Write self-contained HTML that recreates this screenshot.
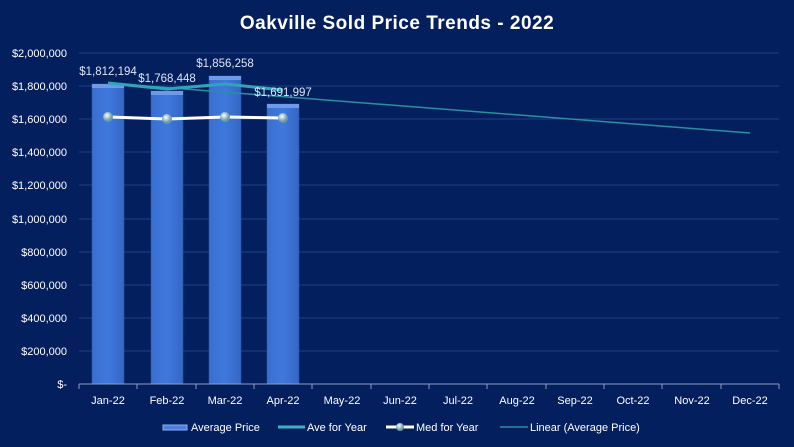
<!DOCTYPE html><html><head><style>body{margin:0;background:#041f5e;}svg{display:block}</style></head><body>
<svg width="794" height="447" xmlns="http://www.w3.org/2000/svg" font-family="Liberation Sans, sans-serif">
<defs><linearGradient id="b" x1="0" x2="1"><stop offset="0" stop-color="#3a6fd0"/><stop offset="0.5" stop-color="#3f78dc"/><stop offset="1" stop-color="#3566c4"/></linearGradient>
<radialGradient id="m" cx="0.4" cy="0.35"><stop offset="0" stop-color="#fff"/><stop offset="1" stop-color="#6a9aa8"/></radialGradient></defs>
<rect width="794" height="447" fill="#041f5e"/>
<text x="397" y="29" text-anchor="middle" fill="#fff" font-size="19" font-weight="bold" letter-spacing="0.5">Oakville  Sold Price Trends  - 2022</text>
<g stroke="#1f3f86" stroke-width="1">
<line x1="79" x2="779" y1="53" y2="53"/><line x1="79" x2="779" y1="86" y2="86"/><line x1="79" x2="779" y1="119" y2="119"/><line x1="79" x2="779" y1="152" y2="152"/><line x1="79" x2="779" y1="185" y2="185"/><line x1="79" x2="779" y1="219" y2="219"/><line x1="79" x2="779" y1="252" y2="252"/><line x1="79" x2="779" y1="285" y2="285"/><line x1="79" x2="779" y1="318" y2="318"/><line x1="79" x2="779" y1="351" y2="351"/>
</g>
<g fill="#fff" font-size="11" text-anchor="end">
<text x="67" y="57">$2,000,000</text><text x="67" y="90">$1,800,000</text><text x="67" y="123">$1,600,000</text><text x="67" y="156">$1,400,000</text><text x="67" y="189">$1,200,000</text><text x="67" y="223">$1,000,000</text><text x="67" y="256">$800,000</text><text x="67" y="289">$600,000</text><text x="67" y="322">$400,000</text><text x="67" y="355">$200,000</text><text x="67" y="388">$-</text>
</g>
<g fill="url(#b)" stroke="#2a55a8" stroke-width="0.6">
<rect x="92" y="84" width="32" height="300"/><rect x="151" y="91" width="32" height="293"/><rect x="209" y="76" width="32" height="308"/><rect x="267" y="104" width="32" height="280"/>
</g>
<g fill="#6f9ae8"><rect x="92" y="84" width="32" height="4"/><rect x="151" y="91" width="32" height="4"/><rect x="209" y="76" width="32" height="4"/><rect x="267" y="104" width="32" height="4"/></g>
<line x1="79" x2="779" y1="384" y2="384" stroke="#8a9cc8"/>
<g stroke="#8a9cc8"><line x1="79" x2="79" y1="384" y2="389"/><line x1="137" x2="137" y1="384" y2="389"/><line x1="196" x2="196" y1="384" y2="389"/><line x1="254" x2="254" y1="384" y2="389"/><line x1="312" x2="312" y1="384" y2="389"/><line x1="371" x2="371" y1="384" y2="389"/><line x1="429" x2="429" y1="384" y2="389"/><line x1="487" x2="487" y1="384" y2="389"/><line x1="546" x2="546" y1="384" y2="389"/><line x1="604" x2="604" y1="384" y2="389"/><line x1="662" x2="662" y1="384" y2="389"/><line x1="721" x2="721" y1="384" y2="389"/><line x1="779" x2="779" y1="384" y2="389"/></g>
<g fill="#fff" font-size="11" text-anchor="middle">
<text x="108" y="404">Jan-22</text><text x="167" y="404">Feb-22</text><text x="225" y="404">Mar-22</text><text x="283" y="404">Apr-22</text><text x="342" y="404">May-22</text><text x="400" y="404">Jun-22</text><text x="458" y="404">Jul-22</text><text x="517" y="404">Aug-22</text><text x="575" y="404">Sep-22</text><text x="633" y="404">Oct-22</text><text x="692" y="404">Nov-22</text><text x="750" y="404">Dec-22</text>
</g>
<line x1="108" y1="83" x2="750" y2="133" stroke="#2a8fa0" stroke-width="1.5"/>
<polyline points="108,83 167,89 225,84 283,90" fill="none" stroke="#2fa6b8" stroke-width="3"/>
<polyline points="108,117 167,119 225,117 283,118" fill="none" stroke="#fff" stroke-width="3"/>
<g fill="url(#m)"><circle cx="108" cy="117" r="5"/><circle cx="167" cy="119" r="5"/><circle cx="225" cy="117" r="5"/><circle cx="283" cy="118" r="5"/></g>
<g fill="#dde6f5" font-size="11.5" text-anchor="middle">
<text x="108" y="75">$1,812,194</text><text x="167" y="82">$1,768,448</text><text x="225" y="67">$1,856,258</text><text x="283" y="96">$1,691,997</text>
</g>
<g font-size="11" fill="#fff">
<rect x="163" y="425" width="24" height="5" fill="#4a7ee0" stroke="#8ab0f0"/><text x="191" y="431">Average Price</text>
<line x1="278" y1="427" x2="305" y2="427" stroke="#3fb0c4" stroke-width="3"/><text x="307" y="431">Ave for Year</text>
<line x1="386" y1="427" x2="414" y2="427" stroke="#fff" stroke-width="3"/><circle cx="400" cy="427" r="4" fill="url(#m)"/><text x="416" y="431">Med for Year</text>
<line x1="500" y1="427" x2="528" y2="427" stroke="#2a8fa0" stroke-width="1.5"/><text x="530" y="431">Linear (Average Price)</text>
</g>
</svg></body></html>
